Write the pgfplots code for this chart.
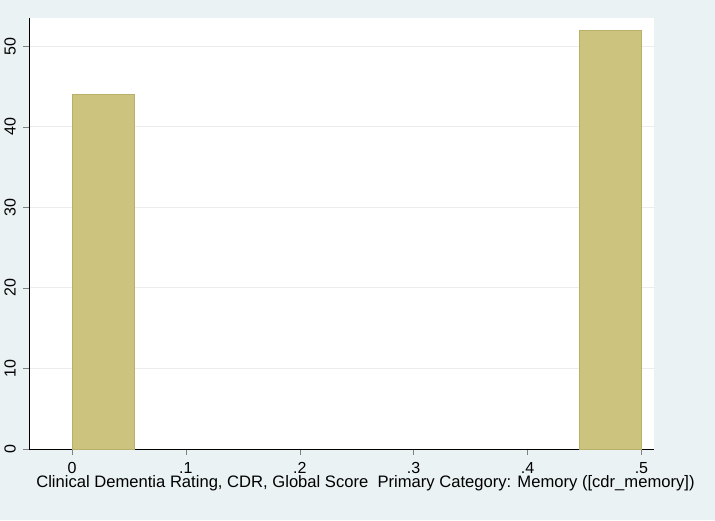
\documentclass[border=0pt]{standalone}
\usepackage{pgfplots}
\pgfplotsset{compat=1.18}
\usepackage{fontspec}
\setmainfont{Liberation Sans}
\definecolor{bg}{HTML}{EAF2F3}
\definecolor{barf}{HTML}{CCC47E}
\definecolor{bard}{HTML}{B8AF68}
\begin{document}
\begin{tikzpicture}
\useasboundingbox (0,0) rectangle (357.5pt,260pt);
\fill[bg] (0,0) rectangle (357.5pt,260pt);
\clip (0,0) rectangle (357.5pt,260pt);
\begin{axis}[at={(36pt,35.5pt)}, anchor=origin,
 scale only axis, width=312.5pt, height=215.5pt,
 xmin=-0.0378, xmax=0.511, ymin=0, ymax=53.5,
 axis x line*=bottom, axis y line*=left,
 x axis line style={-}, y axis line style={-},
 axis background/.style={fill=white},
 font=\fontsize{8}{9}\selectfont,
 /pgf/number format/assume math mode=true,
 xtick={0,0.1,0.2,0.3,0.4,0.5}, xticklabels={0,.1,.2,.3,.4,.5},
 ytick={0,10,20,30,40,50},
 yticklabel style={rotate=90, anchor=south},
 tick align=outside, major tick length=3pt,
 ymajorgrids, grid style={gray!15},
 xlabel={\fontsize{8.3}{9}\selectfont Clinical Dementia Rating, CDR, Global Score\ \ Primary Category: Memory ([cdr\_memory])},
 ylabel={{\color{red!50!black}F}requency},
 xlabel style={yshift=6pt, xshift=12pt}, ylabel style={yshift=-2pt},
 clip=false]
\addplot[fill=barf, draw=bard] coordinates {(0,0)(0,44)(0.0545,44)(0.0545,0)} -- cycle;
\addplot[fill=barf, draw=bard] coordinates {(0.4455,0)(0.4455,52)(0.5,52)(0.5,0)} -- cycle;
\end{axis}
\end{tikzpicture}
\end{document}
